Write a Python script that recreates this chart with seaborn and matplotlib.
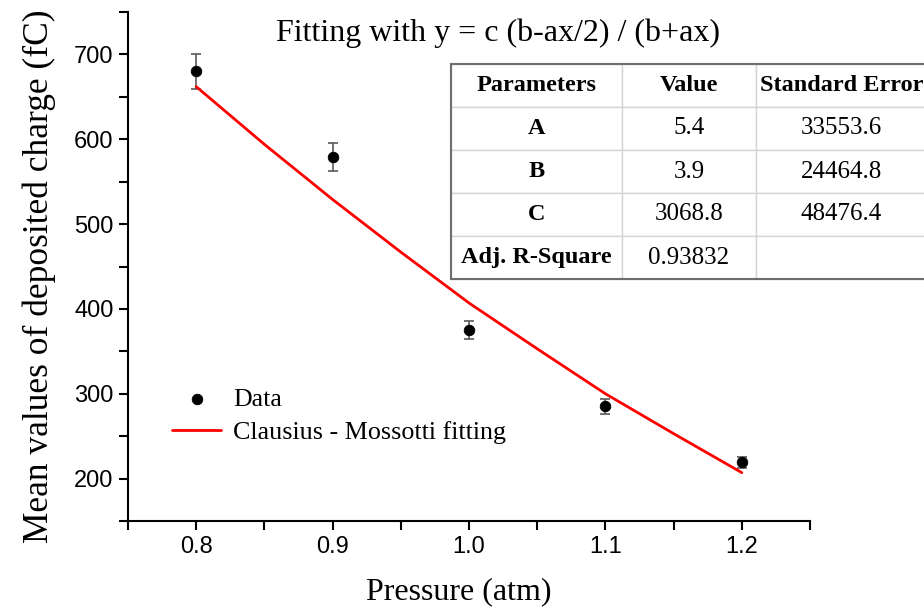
import numpy as np
import pandas as pd
import matplotlib
matplotlib.use('Agg')
import matplotlib.pyplot as plt
import seaborn as sns

# 数据点 (Pressure, mean charge, error)
pressure = [0.8, 0.9, 1.0, 1.1, 1.2]
charge = [680, 579, 375, 285, 219]
charge_err = [21, 17, 11, 9, 6]

# 拟合曲线
fit_pressure = [0.80, 0.85, 0.90, 0.95, 1.00, 1.05, 1.10, 1.15, 1.20]
fit_charge = [662, 594, 529, 467, 407, 353, 300, 253, 207]

# 参数表
table_header = ['Parameters', 'Value', 'Standard Error']
table_params = ['A', 'B', 'C', 'Adj. R-Square']
table_values = ['5.4', '3.9', '3068.8', '0.93832']
table_errors = ['33553.6', '24464.8', '48476.4', '']

sns.set_theme(style='ticks')
plt.rcParams['font.family'] = ['Liberation Sans', 'DejaVu Sans']
plt.rcParams.update({'text.color': 'black', 'axes.labelcolor': 'black',
                     'xtick.color': 'black', 'ytick.color': 'black'})
serif = ['Liberation Serif', 'DejaVu Serif']

W, H = 924, 611
fig = plt.figure(figsize=(W / 100, H / 100), dpi=100)
ax = fig.add_axes([128 / W, 1 - 521 / H, (810 - 128) / W, (521 - 12) / H])

df = pd.DataFrame({'p': pressure, 'q': charge})
df_fit = pd.DataFrame({'p': fit_pressure, 'q': fit_charge})

ax.errorbar(pressure, charge, yerr=charge_err, fmt='none', ecolor='#5a5a5a',
            elinewidth=1.2, capsize=3.6, capthick=1.2, zorder=2)
sns.lineplot(data=df_fit, x='p', y='q', ax=ax, color='red', linewidth=2,
             label='Clausius - Mossotti fitting', zorder=3)
sns.scatterplot(data=df, x='p', y='q', ax=ax, color='black', s=58,
                edgecolor='black', label='Data', zorder=4)

ax.set_xlim(0.75, 1.25)
ax.set_ylim(150, 750)
ax.set_xticks([0.8, 0.9, 1.0, 1.1, 1.2])
ax.set_xticks(np.arange(0.75, 1.26, 0.05), minor=True)
ax.set_yticks([200, 300, 400, 500, 600, 700])
ax.set_yticks(np.arange(150, 751, 50), minor=True)
ax.xaxis.set_major_formatter(matplotlib.ticker.FormatStrFormatter('%.1f'))
ax.tick_params(which='both', direction='out', length=6.5, width=1.5, color='black')
ax.tick_params(axis='both', labelsize=17, colors='black', pad=4)
for s in ['left', 'bottom']:
    ax.spines[s].set_linewidth(1.5)
    ax.spines[s].set_color('black')
sns.despine(ax=ax)

ax.set_xlabel('Pressure (atm)', fontsize=23, family=serif)
ax.set_ylabel('Mean values of deposited charge (fC)', fontsize=25.5, family=serif)
ax.xaxis.set_label_coords(0.485, -0.11)
ax.yaxis.set_label_coords(-0.105, 0.48)

ax.text(0.543, 0.958, 'Fitting with y = c (b-ax/2) / (b+ax)', transform=ax.transAxes,
        ha='center', va='center', fontsize=23, family=serif)

# 图例
handles, labels = ax.get_legend_handles_labels()
order = [labels.index('Data'), labels.index('Clausius - Mossotti fitting')]
ax.legend([handles[i] for i in order], [labels[i] for i in order],
          loc='upper left', bbox_to_anchor=(0.0645, 0.262), frameon=False,
          borderpad=0, borderaxespad=0, handlelength=1.9, handletextpad=0.46,
          labelspacing=0.38, prop={'family': serif, 'size': 18.7})

# 参数表
tx0, ty0, tx1, ty1 = 451, 64, 927, 279
ax_t = fig.add_axes([tx0 / W, 1 - ty1 / H, (tx1 - tx0) / W, (ty1 - ty0) / H])
ax_t.set_xticks([])
ax_t.set_yticks([])
for s in ax_t.spines.values():
    s.set_color('#6e6e6e')
    s.set_linewidth(1.5)
cells = [[table_params[i], table_values[i], table_errors[i]] for i in range(len(table_params))]
tab = ax_t.table(cellText=cells, colLabels=table_header, bbox=[0, 0, 1, 1],
                 cellLoc='center')
tab.auto_set_font_size(False)
col_w = [171, 134, 171]
for (r, c), cell in tab.get_celld().items():
    cell.set_width(col_w[c])
    cell.set_edgecolor('#d4d4d4')
    cell.set_linewidth(1.0)
    txt = cell.get_text()
    txt.set_family(serif)
    if r == 0 or c == 0:
        txt.set_fontweight('bold')
        txt.set_fontsize(17.5)
    else:
        txt.set_fontsize(18)

fig.savefig('out.png', dpi=100)
